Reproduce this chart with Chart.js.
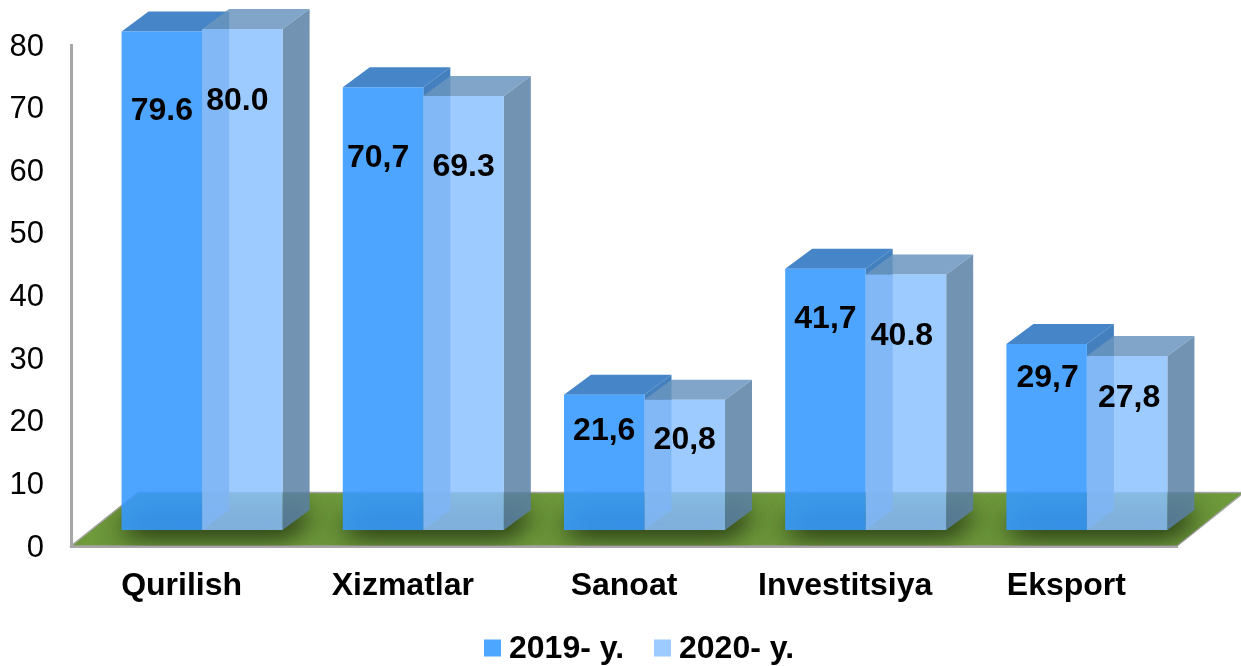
<!DOCTYPE html>
<html>
<head>
<meta charset="utf-8">
<title>Chart</title>
<style>
    html, body { margin: 0; padding: 0; background: #fff; }
    canvas { display: block; }
</style>
<script src="https://cdn.jsdelivr.net/npm/chart.js@4/dist/chart.umd.min.js"></script>
</head>
<body>
<canvas id="barChart" width="1241" height="666"></canvas>
<script>
const categories = ['Qurilish', 'Xizmatlar', 'Sanoat', 'Investitsiya', 'Eksport'];
const seriesNames = ['2019- y.', '2020- y.'];
const values2019 = [79.6, 70.7, 21.6, 41.7, 29.7];
const values2020 = [80.0, 69.3, 20.8, 40.8, 27.8];
const labels2019 = ['79.6', '70,7', '21,6', '41,7', '29,7'];
const labels2020 = ['80.0', '69.3', '20,8', '40.8', '27,8'];

// label placement below the bar top, in px
const labelDrop = [[80, 71, 36, 50, 34], [72, 71, 40, 62, 42]];
const labelNudge = [[0, -5, 0, 0, 1], [-5, 0, 0, -4, 2]];

const FONT = '"Liberation Sans", Arial, sans-serif';
const BOLD = 'bold 32px ' + FONT;

// oblique projection: bars stand a bit behind the axis plane
const shift = { x: 20.5, y: -16 };
const depth = { x: 27, y: -20 };
const floorDepth = { x: 67, y: -53.5 };

const faces = [
    { side: 'rgba(44, 112, 182, 0.885)', top: 'rgba(45, 117, 193, 0.885)' },
    { side: 'rgba(90, 128, 166, 0.85)', top: 'rgba(106, 149, 190, 0.85)' }
];
const legendColors = ['#4da6ff', '#9ecbff'];

function poly(ctx, points, fill) {
    ctx.beginPath();
    points.forEach((p, i) => (i ? ctx.lineTo(p[0], p[1]) : ctx.moveTo(p[0], p[1])));
    ctx.closePath();
    if (fill) {
        ctx.fillStyle = fill;
        ctx.fill();
    }
}

function footprint(left, right, y) {
    return [[left, y], [right, y], [right + depth.x, y + depth.y], [left + depth.x, y + depth.y]];
}

function drawFloor(chart) {
    const ctx = chart.ctx;
    const { left, right, bottom } = chart.chartArea;
    const floor = [
        [left, bottom], [right, bottom],
        [right + floorDepth.x, bottom + floorDepth.y], [left + floorDepth.x, bottom + floorDepth.y]
    ];
    ctx.save();
    poly(ctx, floor, '#6f9a3c');
    ctx.strokeStyle = '#a6a6a6';
    ctx.lineWidth = 1.5;
    ctx.stroke();
    ctx.clip();

    // soft shadow round the feet of the bars, the shape itself stays off the canvas
    const away = 3000;
    const first = chart.getDatasetMeta(0).data;
    const second = chart.getDatasetMeta(1).data;
    ctx.shadowColor = 'rgba(30, 45, 15, 0.8)';
    ctx.shadowBlur = 26;
    ctx.shadowOffsetX = away;
    first.forEach((bar, i) => {
        const x0 = bar.x - bar.width / 2 + shift.x - 5;
        const x1 = second[i].x + second[i].width / 2 + shift.x + 5;
        for (let pass = 0; pass < 2; pass++) {
            poly(ctx, footprint(x0 - away, x1 - away, bar.base + shift.y + 3), '#000');
        }
    });
    ctx.restore();
}

function drawBars(chart, index) {
    const ctx = chart.ctx;
    const meta = chart.getDatasetMeta(index);
    const color = faces[index];
    meta.data.forEach(bar => {
        const x0 = bar.x - bar.width / 2 + shift.x;
        const x1 = bar.x + bar.width / 2 + shift.x;
        const top = bar.y + shift.y;
        const base = bar.base + shift.y;
        poly(ctx, [[x1, top], [x1, base], [x1 + depth.x, base + depth.y], [x1 + depth.x, top + depth.y]], color.side);
        poly(ctx, [[x0, top], [x1, top], [x1 + depth.x, top + depth.y], [x0 + depth.x, top + depth.y]], color.top);
    });
    // the library draws the front faces, moved into the bar plane
    ctx.save();
    ctx.translate(shift.x, shift.y);
    meta.controller.draw();
    ctx.restore();
}

const bars3d = {
    id: 'bars3d',
    beforeDatasetsDraw(chart) {
        drawFloor(chart);
        // first series first, so that the second one lies over it
        drawBars(chart, 0);
        drawBars(chart, 1);
    },
    beforeDatasetDraw() {
        return false;
    },
    afterDatasetsDraw(chart) {
        const ctx = chart.ctx;
        ctx.save();
        ctx.font = BOLD;
        ctx.fillStyle = '#000';
        ctx.textAlign = 'center';
        ctx.textBaseline = 'middle';
        [labels2019, labels2020].forEach((texts, d) => {
            chart.getDatasetMeta(d).data.forEach((bar, i) => {
                ctx.fillText(texts[i], bar.x + shift.x + labelNudge[d][i], bar.y + shift.y + labelDrop[d][i]);
            });
        });
        ctx.restore();
    },
    afterDraw(chart) {
        // legend
        const ctx = chart.ctx;
        const y = 648;
        const box = 17;
        ctx.save();
        ctx.font = BOLD;
        ctx.textBaseline = 'middle';
        [484, 654].forEach((x, i) => {
            ctx.fillStyle = legendColors[i];
            ctx.fillRect(x, y - box / 2, box, box);
            ctx.fillStyle = '#000';
            ctx.fillText(chart.data.datasets[i].label, x + box + 8, y + 1);
        });
        ctx.restore();
    }
};

new Chart(document.getElementById('barChart'), {
    type: 'bar',
    data: {
        labels: categories,
        datasets: [
            {
                label: seriesNames[0],
                data: values2019,
                backgroundColor: 'rgba(54, 154, 255, 0.885)'
            },
            {
                label: seriesNames[1],
                data: values2020,
                backgroundColor: 'rgba(141, 194, 255, 0.85)'
            }
        ]
    },
    options: {
        responsive: false,
        animation: false,
        categoryPercentage: 0.728,
        barPercentage: 1,
        layout: { padding: { top: 45, right: 64 } },
        plugins: {
            legend: { display: false },
            tooltip: { enabled: false }
        },
        scales: {
            x: {
                grid: { display: false },
                border: { color: '#a6a6a6', width: 3 },
                ticks: {
                    color: '#000',
                    font: { family: FONT, size: 32, weight: 'bold' },
                    padding: 13,
                    maxRotation: 0,
                    autoSkip: false
                },
                afterFit(scale) { scale.height = 120; }
            },
            y: {
                min: 0,
                max: 80,
                grid: { display: false },
                border: { color: '#a6a6a6', width: 3 },
                ticks: {
                    stepSize: 10,
                    color: '#000',
                    // empty first line with a small line height moves the digits down 2px
                    callback: value => ['', String(value)],
                    font: { family: FONT, size: 31, lineHeight: '4px' },
                    padding: 19
                },
                afterFit(scale) { scale.width = 71; }
            }
        }
    },
    plugins: [bars3d]
});
</script>
</body>
</html>
